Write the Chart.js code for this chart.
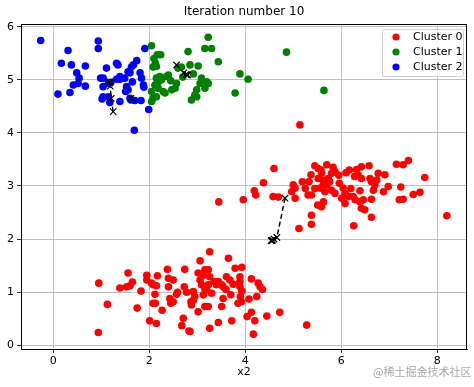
<!DOCTYPE html>
<html>
<head>
<meta charset="utf-8">
<script src="https://cdn.jsdelivr.net/npm/chart.js@4.4.1/dist/chart.umd.min.js"></script>
<style>
  html, body { margin: 0; padding: 0; background: #fff; }
  #wrap { position: relative; width: 474px; height: 387px; }
  #mark {
    position: absolute; left: 373px; top: 363px;
    font-family: "Noto Sans CJK SC", sans-serif; font-size: 11px;
    color: rgba(150,150,150,0.85); white-space: nowrap;
  }
</style>
</head>
<body>
<div id="wrap">
  <canvas id="chart" width="474" height="387"></canvas>
  <div id="mark">@稀土掘金技术社区</div>
</div>
<script>
// cluster labels + colours
const clusterNames = ['Cluster 0', 'Cluster 1', 'Cluster 2'];
const clusterColors = ['#ff0000', '#008000', '#0000ff'];

// points of each cluster: [x, y]
const cluster0 = [
  // right group
  [5.14,4.15],[4.60,3.33],[4.38,3.06],[4.19,2.91],[4.22,2.83],[3.96,2.74],[3.45,2.70],[4.58,2.80],[4.69,2.79],
  [4.97,2.89],[5.04,2.96],[5.00,3.02],[5.04,2.77],[5.19,3.08],[5.33,3.08],[5.37,3.21],[5.52,3.33],[5.58,3.30],
  [5.52,3.14],[5.31,2.83],[5.38,2.83],[5.51,2.64],[5.59,2.61],[5.38,2.45],[5.38,2.28],[5.12,2.20],[5.56,2.96],
  [5.63,3.02],[5.59,3.24],[5.63,3.11],[5.83,3.35],[5.87,3.27],[5.80,3.24],[5.73,3.14],[5.76,3.08],[5.70,3.02],
  [5.66,2.89],[5.80,2.92],[5.87,2.86],[5.96,3.05],[6.04,2.96],[6.08,2.86],[6.01,2.77],[6.08,2.67],[6.15,2.80],
  [6.25,2.80],[6.29,2.74],[5.63,2.70],[6.17,3.30],[6.32,3.31],[6.42,3.36],[6.58,3.38],[6.35,3.21],[6.28,3.18],
  [6.42,3.14],[6.60,3.14],[6.63,3.08],[6.74,3.11],[6.77,3.24],[6.91,3.21],[6.70,3.02],[6.67,2.92],[6.88,2.89],
  [6.98,2.99],[6.39,2.91],[6.39,2.70],[6.46,2.74],[6.42,2.58],[6.49,2.55],[6.63,2.75],[6.63,2.41],[6.26,2.25],
  [7.15,3.41],[7.29,3.40],[7.40,3.48],[7.74,3.16],[7.24,2.98],[7.21,2.74],[7.29,2.75],[7.50,2.84],[7.64,2.88],
  [8.20,2.44],[5.45,3.38],[5.70,3.40],[5.95,3.20],[6.10,3.25],[5.25,2.95],[5.45,2.95],[6.20,2.95],
  // bottom group
  [0.95,1.17],[1.13,0.77],[0.94,0.24],[1.56,1.36],[1.39,1.08],[1.53,1.10],[1.60,1.12],[1.65,1.19],[1.83,1.02],
  [1.75,0.70],[1.95,1.32],[1.95,1.23],[2.05,1.17],[2.08,1.14],[2.15,1.12],[2.17,1.31],[2.12,0.96],[2.13,0.79],
  [2.08,0.79],[2.27,0.66],[2.01,0.46],[2.15,0.41],[2.38,1.43],[2.40,1.26],[2.50,1.23],[2.40,1.10],[2.74,1.43],
  [2.73,1.10],[2.78,1.00],[2.59,1.00],[2.57,0.96],[2.43,0.88],[2.50,0.82],[2.45,0.79],[2.87,0.82],[2.92,0.85],
  [2.88,0.76],[2.71,0.51],[2.68,0.37],[2.83,0.27],[3.26,1.76],[3.65,1.64],[3.06,1.59],[3.79,1.45],[3.93,1.47],
  [3.02,1.36],[3.16,1.42],[3.23,1.42],[3.13,1.32],[3.26,1.29],[3.06,1.23],[3.09,1.14],[3.23,1.14],[3.44,1.20],
  [3.51,1.14],[3.61,1.29],[3.68,1.23],[3.54,1.10],[3.40,1.14],[3.89,1.29],[3.89,1.20],[3.89,1.10],[3.93,1.02],
  [4.13,1.25],[4.27,1.17],[4.31,1.10],[4.36,1.05],[2.92,1.01],[2.95,0.92],[3.13,0.95],[3.20,1.04],[3.30,0.98],
  [3.16,1.07],[3.54,0.88],[3.51,0.73],[3.90,0.92],[3.85,0.79],[3.92,0.82],[4.08,0.87],[4.24,0.92],[3.02,0.63],
  [3.16,0.73],[3.23,0.73],[3.72,0.46],[3.44,0.43],[3.26,0.32],[4.04,0.54],[4.13,0.62],[4.20,0.46],[4.17,0.21],
  [4.45,0.55],[4.72,0.62],[2.85,0.26],[5.28,0.38],[3.35,1.20],[3.75,1.15],[3.60,1.05],[3.70,0.95]
];
const cluster1 = [
  [2.05,5.64],[3.23,5.80],[3.16,5.59],[3.30,5.59],[2.81,5.53],[3.44,5.34],[2.17,5.47],[2.24,5.47],[2.10,5.40],
  [2.13,5.31],[2.15,5.25],[2.08,5.24],[2.60,5.22],[2.67,5.24],[2.85,5.28],[3.02,5.26],[2.92,5.11],[3.09,5.03],
  [3.20,4.96],[3.06,4.93],[3.23,4.93],[3.16,4.84],[2.99,4.81],[2.95,4.71],[2.88,4.62],[2.99,4.68],[2.22,5.06],
  [2.15,5.03],[2.19,4.96],[2.26,5.00],[2.36,5.06],[2.40,5.09],[2.12,4.90],[2.19,4.84],[2.05,4.78],[2.29,4.78],
  [2.15,4.68],[2.08,4.65],[2.05,4.59],[2.47,4.81],[2.54,4.84],[2.57,4.93],[2.33,4.75],[3.79,4.75],[4.86,5.52],
  [5.64,4.80],[3.89,5.11],[4.06,5.01],[2.70,5.05],[2.45,4.98]
];
const cluster2 = [
  [-0.26,5.74],[0.94,5.73],[0.94,5.59],[0.31,5.55],[0.17,5.31],[0.38,5.28],[0.67,5.26],[0.49,5.13],[0.54,5.03],
  [0.52,4.93],[0.42,4.90],[0.67,4.88],[0.10,4.73],[0.35,4.76],[1.11,5.22],[1.32,5.31],[1.35,5.28],[1.67,5.28],
  [0.99,5.03],[1.04,5.03],[1.04,4.87],[1.02,4.64],[1.15,4.68],[1.18,4.57],[1.39,4.59],[1.39,5.06],[1.49,5.03],
  [1.60,5.13],[1.53,4.87],[1.56,4.81],[1.65,4.96],[1.69,4.05],[1.62,4.62],[1.70,4.61],[1.83,4.61],[1.91,5.59],
  [1.74,5.36],[1.63,5.24],[1.81,5.13],[1.84,5.03],[1.88,4.90],[1.56,5.15],[1.99,4.44],[1.32,5.01],[1.39,5.01],
  [1.51,4.78],[1.60,4.65],[1.89,4.86],[1.04,4.68],[1.20,4.95],[1.15,4.93]
];

// centroid history per cluster
const centroids0 = [[4.83,2.77],[4.66,2.03],[4.60,2.00],[4.57,1.98],[4.55,1.97],[4.54,1.97]];
const centroids1 = [[2.57,5.28],[2.72,5.13],[2.77,5.10],[2.79,5.09],[2.80,5.09]];
const centroids2 = [[1.25,4.40],[1.21,4.65],[1.19,4.88],[1.18,4.94],[1.18,4.96]];
const centroidsExtra = [[1.62,4.65]];

const xTicks = [0, 2, 4, 6, 8];
const yTicks = [0, 1, 2, 3, 4, 5, 6];

const toPts = arr => arr.map(p => ({ x: p[0], y: p[1] }));

function clusterSet(i, pts) {
  return {
    label: clusterNames[i],
    data: toPts(pts),
    backgroundColor: clusterColors[i],
    borderWidth: 0,
    pointRadius: 3.8,
    pointHoverRadius: 3.8,
    order: 2
  };
}
function centroidSet(pts, line) {
  return {
    label: 'centroids',
    data: toPts(pts),
    showLine: line,
    borderColor: '#000',
    borderWidth: 1.4,
    borderDash: [5, 3],
    pointStyle: 'crossRot',
    pointRadius: 4.5,
    pointBorderColor: '#000',
    pointBorderWidth: 1.2,
    pointBackgroundColor: '#000',
    fill: false,
    order: 1
  };
}

// legend + frame drawn like matplotlib
const frameAndLegend = {
  id: 'frameAndLegend',
  afterDraw(chart) {
    const ctx = chart.ctx, a = chart.chartArea;
    ctx.save();
    ctx.strokeStyle = '#000';
    ctx.lineWidth = 1;
    ctx.strokeRect(a.left + 0.5, a.top + 0.5, a.right - a.left - 1, a.bottom - a.top);

    const bx = 382, by = 29, bw = 81, bh = 47;
    ctx.fillStyle = 'rgba(255,255,255,0.85)';
    ctx.strokeStyle = '#d0d0d0';
    ctx.beginPath();
    ctx.roundRect(bx + 0.5, by + 0.5, bw, bh, 2);
    ctx.fill();
    ctx.stroke();

    ctx.font = '11px "DejaVu Sans"';
    ctx.textBaseline = 'middle';
    clusterNames.forEach((name, i) => {
      const cy = by + 8 + i * 15;
      ctx.fillStyle = clusterColors[i];
      ctx.beginPath();
      ctx.arc(bx + 14, cy, 3.6, 0, Math.PI * 2);
      ctx.fill();
      ctx.fillStyle = '#000';
      ctx.fillText(name, bx + 31, cy);
    });
    ctx.restore();
  }
};

new Chart(document.getElementById('chart'), {
  type: 'scatter',
  data: {
    datasets: [
      clusterSet(0, cluster0),
      clusterSet(1, cluster1),
      clusterSet(2, cluster2),
      centroidSet(centroids0, true),
      centroidSet(centroids1, true),
      centroidSet(centroids2, true),
      centroidSet(centroidsExtra, false)
    ]
  },
  options: {
    responsive: false,
    animation: false,
    devicePixelRatio: 1,
    layout: { padding: { left: 0, right: 7, top: 0, bottom: 0 } },
    plugins: {
      legend: { display: false },
      tooltip: { enabled: false },
      title: {
        display: true,
        text: 'Iteration number 10',
        fullSize: false,
        color: '#000',
        font: { family: 'DejaVu Sans', size: 12, weight: 'normal' },
        padding: { top: 5, bottom: 4.6 }
      }
    },
    scales: {
      x: {
        type: 'linear',
        min: -0.67,
        max: 8.62,
        afterFit: s => { s.height = 38; },
        afterBuildTicks: s => { s.ticks = xTicks.map(v => ({ value: v })); },
        ticks: { color: '#000', padding: 2, font: { family: 'DejaVu Sans', size: 11 } },
        grid: { color: '#b0b0b0', lineWidth: 0.8, tickColor: '#000', tickLength: 4 },
        border: { display: true, color: '#000', width: 1 },
        title: {
          display: true, text: 'x2', color: '#000',
          font: { family: 'DejaVu Sans', size: 11 },
          padding: { top: 0, bottom: 8 }
        }
      },
      y: {
        type: 'linear',
        min: -0.07,
        max: 6.05,
        afterFit: s => { s.width = 21; },
        afterBuildTicks: s => { s.ticks = yTicks.map(v => ({ value: v })); },
        ticks: { color: '#000', padding: 3, font: { family: 'DejaVu Sans', size: 11 } },
        grid: { color: '#b0b0b0', lineWidth: 0.8, tickColor: '#000', tickLength: 4 },
        border: { display: true, color: '#000', width: 1 }
      }
    }
  },
  plugins: [frameAndLegend]
});
</script>
</body>
</html>
